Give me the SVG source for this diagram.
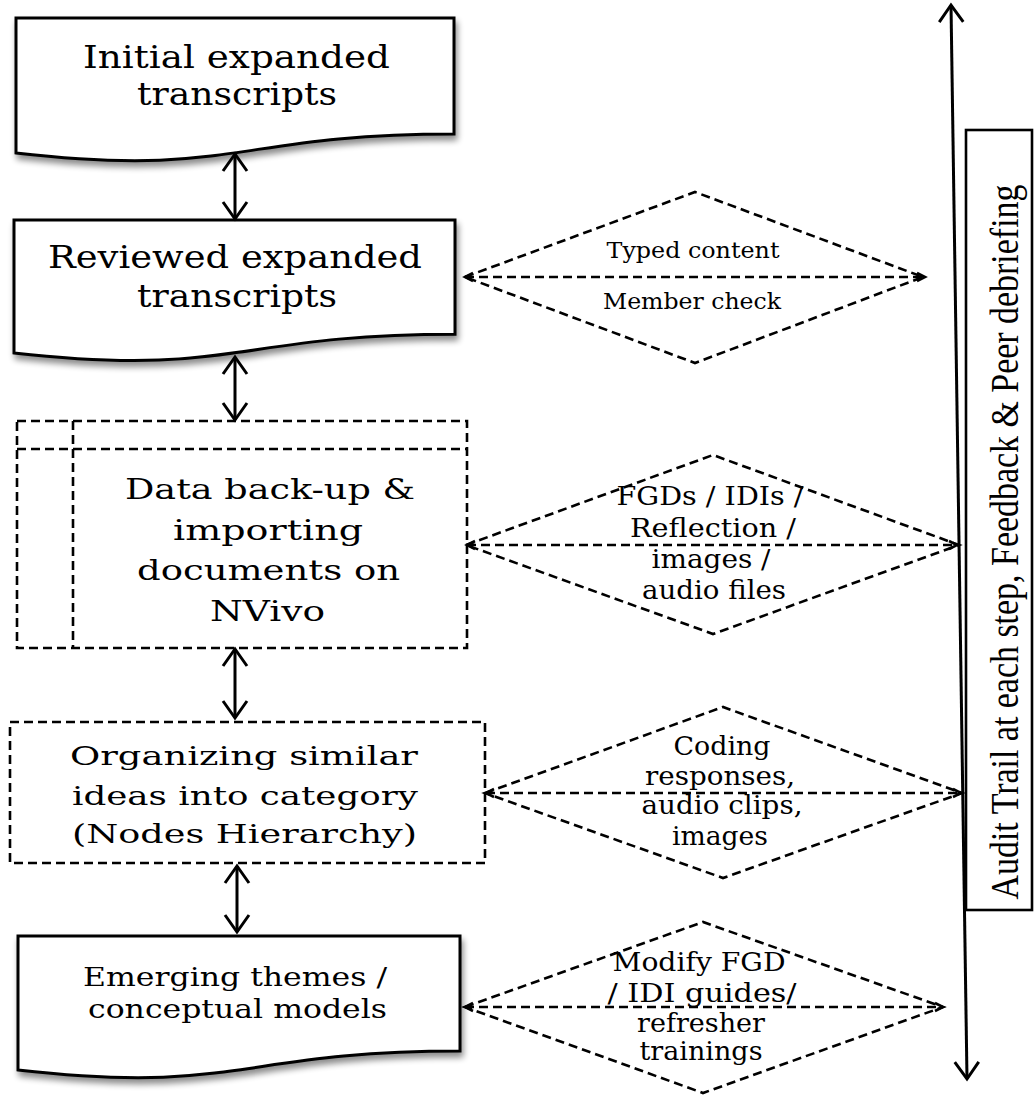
<svg xmlns="http://www.w3.org/2000/svg" width="1034" height="1095" viewBox="0 0 1034 1095">
<style>
.doc{fill:#fff;stroke:#000;stroke-width:3;filter:url(#sh)}
.dash{fill:#fff;stroke:#000;stroke-width:2.6;stroke-dasharray:9 5}
.dl{fill:none;stroke:#000;stroke-width:2.6;stroke-dasharray:9 5}
.conn{fill:none;stroke:#000;stroke-width:3}
.t{font-family:"DejaVu Serif","Liberation Serif",serif;fill:#000;text-anchor:middle}
.big{font-size:31px}
.mid{font-size:27px}
.sm{font-size:26px}
.xs{font-size:22px}
.audit{font-family:"Liberation Serif",serif;font-size:40px;fill:#000;text-anchor:middle}
</style>
<defs>
<filter id="sh" x="-10%" y="-10%" width="125%" height="135%">
<feGaussianBlur in="SourceAlpha" stdDeviation="3"/>
<feOffset dx="2" dy="5" result="b"/>
<feComponentTransfer><feFuncA type="linear" slope="0.45"/></feComponentTransfer>
<feMerge><feMergeNode/><feMergeNode in="SourceGraphic"/></feMerge>
</filter>
<marker id="v" markerUnits="userSpaceOnUse" markerWidth="24" markerHeight="30" refX="19" refY="14" orient="auto-start-reverse" overflow="visible">
<path d="M2,2 L19,14 L2,26" fill="none" stroke="#000" stroke-width="3"/>
</marker>
<marker id="s" markerUnits="userSpaceOnUse" markerWidth="12" markerHeight="12" refX="9" refY="5" orient="auto-start-reverse" overflow="visible">
<path d="M1,1 L9,5 L1,9" fill="none" stroke="#000" stroke-width="2.6"/>
</marker>
</defs>
<rect width="1034" height="1095" fill="#fff"/>

<g id="node1">
<path class="doc" d="M16,18 H454 V133.9 C235,133.9 235,178 16,153 Z"/>
<text class="t big" x="236.5" y="68" textLength="307" lengthAdjust="spacingAndGlyphs">Initial expanded</text>
<text class="t big" x="237" y="105" textLength="200" lengthAdjust="spacingAndGlyphs">transcripts</text>
</g>

<g id="node2">
<path class="doc" d="M14,220 H455 V334.2 C234.5,334.2 234.5,377.7 14,353 Z"/>
<text class="t big" x="235" y="268" textLength="374" lengthAdjust="spacingAndGlyphs">Reviewed expanded</text>
<text class="t big" x="237" y="307" textLength="200" lengthAdjust="spacingAndGlyphs">transcripts</text>
</g>

<g id="node3">
<rect class="dash" x="17" y="421" width="450" height="227"/>
<line class="dl" x1="17" y1="449" x2="467" y2="449"/>
<line class="dl" x1="73" y1="421" x2="73" y2="648"/>
<text class="t mid" x="270" y="499" textLength="290" lengthAdjust="spacingAndGlyphs">Data back-up &amp;</text>
<text class="t mid" x="268" y="540" textLength="190" lengthAdjust="spacingAndGlyphs">importing</text>
<text class="t mid" x="268.5" y="580" textLength="263" lengthAdjust="spacingAndGlyphs">documents on</text>
<text class="t mid" x="267.5" y="621" textLength="115" lengthAdjust="spacingAndGlyphs">NVivo</text>
</g>

<g id="node4">
<rect class="dash" x="10" y="722" width="475" height="141"/>
<text class="t sm" x="244" y="765" textLength="348" lengthAdjust="spacingAndGlyphs">Organizing similar</text>
<text class="t sm" x="245" y="805" textLength="346" lengthAdjust="spacingAndGlyphs">ideas into category</text>
<text class="t sm" x="244.5" y="843" textLength="345" lengthAdjust="spacingAndGlyphs">(Nodes Hierarchy)</text>
</g>

<g id="node5">
<path class="doc" d="M18,936 H460 V1051.1 C239,1051.1 239,1094.9 18,1070 Z"/>
<text class="t sm" x="235" y="986" textLength="304" lengthAdjust="spacingAndGlyphs">Emerging themes /</text>
<text class="t sm" x="237.5" y="1018" textLength="299" lengthAdjust="spacingAndGlyphs">conceptual models</text>
</g>

<g id="diamond2">
<polygon class="dash" points="465,277 695,192 923,277 695,363"/>
<text class="t xs" x="693" y="258" textLength="173" lengthAdjust="spacingAndGlyphs">Typed content</text>
<text class="t xs" x="692" y="309" textLength="178" lengthAdjust="spacingAndGlyphs">Member check</text>
</g>

<g id="diamond3">
<polygon class="dash" points="466,545 713,455 959,545 713,634"/>
<text class="t sm" x="710" y="505" textLength="187" lengthAdjust="spacingAndGlyphs">FGDs / IDIs /</text>
<text class="t sm" x="713" y="537" textLength="166" lengthAdjust="spacingAndGlyphs">Reflection /</text>
<text class="t sm" x="711" y="568" textLength="119" lengthAdjust="spacingAndGlyphs">images /</text>
<text class="t sm" x="714" y="599" textLength="144" lengthAdjust="spacingAndGlyphs">audio files</text>
</g>

<g id="diamond4">
<polygon class="dash" points="485,793 723,707 962,793 723,878"/>
<text class="t sm" x="722" y="755" textLength="97" lengthAdjust="spacingAndGlyphs">Coding</text>
<text class="t sm" x="720" y="785" textLength="150" lengthAdjust="spacingAndGlyphs">responses,</text>
<text class="t sm" x="722" y="814" textLength="161" lengthAdjust="spacingAndGlyphs">audio clips,</text>
<text class="t sm" x="720" y="845" textLength="96" lengthAdjust="spacingAndGlyphs">images</text>
</g>

<g id="diamond5">
<polygon class="dash" points="465,1007 703,922 943,1007 703,1093"/>
<text class="t sm" x="699" y="971" textLength="173" lengthAdjust="spacingAndGlyphs">Modify FGD</text>
<text class="t sm" x="702" y="1002" textLength="189" lengthAdjust="spacingAndGlyphs">/ IDI guides/</text>
<text class="t sm" x="701" y="1032" textLength="128" lengthAdjust="spacingAndGlyphs">refresher</text>
<text class="t sm" x="701" y="1060" textLength="123" lengthAdjust="spacingAndGlyphs">trainings</text>
</g>

<g id="audit">
<rect x="966" y="130" width="66" height="780" fill="#fff" stroke="#000" stroke-width="2.6"/>
<text class="audit" transform="translate(1018,542) rotate(-90)" x="0" y="0" textLength="715" lengthAdjust="spacingAndGlyphs">Audit Trail at each step, Feedback &amp; Peer debriefing</text>
</g>

<g id="connectors">
<line class="conn" x1="235" y1="154" x2="235" y2="219" marker-start="url(#v)" marker-end="url(#v)"/>
<line class="conn" x1="235" y1="357" x2="235" y2="420" marker-start="url(#v)" marker-end="url(#v)"/>
<line class="conn" x1="235" y1="649" x2="235" y2="718" marker-start="url(#v)" marker-end="url(#v)"/>
<line class="conn" x1="237" y1="866" x2="237" y2="932" marker-start="url(#v)" marker-end="url(#v)"/>
<line class="conn" x1="951" y1="5" x2="967" y2="1079" stroke-width="2.6" marker-start="url(#v)" marker-end="url(#v)"/>
<line class="dl" x1="465" y1="277" x2="925" y2="277" marker-start="url(#s)" marker-end="url(#s)"/>
<line class="dl" x1="467" y1="545" x2="957" y2="545" marker-start="url(#s)" marker-end="url(#s)"/>
<line class="dl" x1="486" y1="793" x2="961" y2="793" marker-start="url(#s)" marker-end="url(#s)"/>
<line class="dl" x1="465" y1="1007" x2="943" y2="1007" marker-start="url(#s)" marker-end="url(#s)"/>
</g>
</svg>
